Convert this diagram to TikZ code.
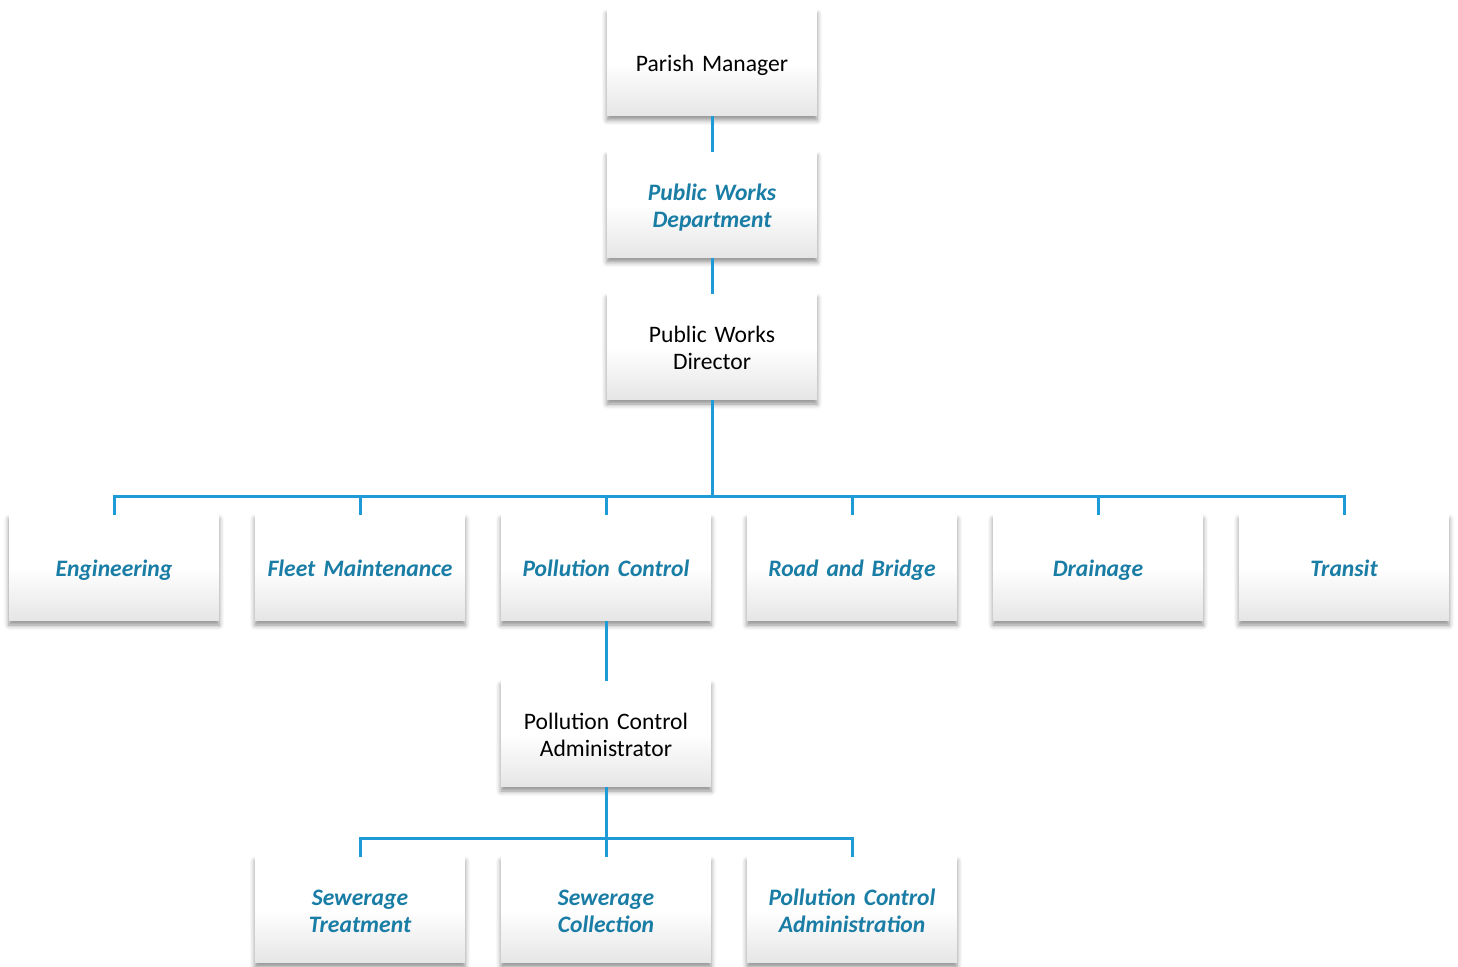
\documentclass[tikz,border=0pt]{standalone}
\usepackage{fontspec}
\setmainfont{Carlito}
\usepackage{xcolor}
\usepackage{tikz}
\usetikzlibrary{positioning, shadows.blur}

\definecolor{linkblue}{RGB}{30,155,215}
\definecolor{unitblue}{RGB}{25,125,165}

\begin{document}
\begin{tikzpicture}[
				x=0.5pt, y=-0.5pt,
				box/.style={
					rectangle,
					minimum width=105pt,
					minimum height=53pt,
					text width=100pt,
					align=center,
					top color=white,
					bottom color=gray!20,
					middle color=white,
					blur shadow={shadow blur radius=2.5pt, shadow xshift=0pt, shadow yshift=-2pt, shadow opacity=45},
					font=\fontsize{11.8}{13.5}\selectfont,
					execute at begin node={\rule{0pt}{13pt}},
					execute at end node=\strut,
					inner sep=0pt
				},
				unit/.style={
					box,
					text=unitblue,
					font=\fontsize{11.8}{13.5}\selectfont\bfseries\itshape
				},
				link/.style={
					draw=linkblue,
					line width=1.5pt
				}
				]
				
				\useasboundingbox (0,0) rectangle (1458,967);
				
				% Top of the chart
				\node[box] (mgr) at (712,63) {Parish Manager};
				\node[unit] (pwd) at (712,205) {Public Works\\ Department};
				\node[box] (dir) at (712,347) {Public Works\\ Director};
				
				% Divisions
				\node[unit] (eng) at (114,568) {Engineering};
				\node[unit] (fleet) at (360,568) {Fleet Maintenance};
				\node[unit] (poll) at (606,568) {Pollution Control};
				\node[unit] (road) at (852,568) {Road and Bridge};
				\node[unit] (drain) at (1098,568) {Drainage};
				\node[unit] (transit) at (1344,568) {Transit};
				
				% Pollution control
				\node[box] (admin) at (606,734) {Pollution Control\\ Administrator};
				\node[unit] (treat) at (360,910) {Sewerage\\ Treatment};
				\node[unit] (coll) at (606,910) {Sewerage\\ Collection};
				\node[unit] (pcadm) at (852,910) {Pollution Control\\ Administration};
				
				% Connectors
				\coordinate (bus) at (712,497);
				\coordinate (subbus) at (606,839);
				
				\draw[link] (mgr) -- (pwd);
				\draw[link] (pwd) -- (dir);
				\foreach \n in {eng, fleet, poll, road, drain, transit}
					\draw[link] (dir.south) |- (bus) -| (\n.north);
				\draw[link] (poll) -- (admin);
				\foreach \n in {treat, coll, pcadm}
					\draw[link] (admin.south) |- (subbus) -| (\n.north);
				
			\end{tikzpicture}
\end{document}
